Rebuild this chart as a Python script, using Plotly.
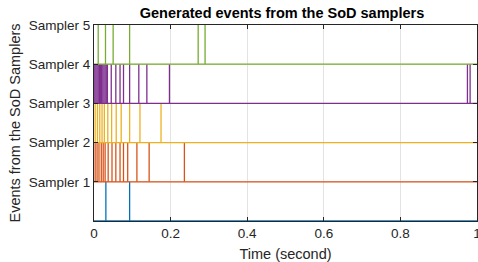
import plotly.graph_objects as go

# Event times (seconds) for each sampler trace
blue_events = [0.031, 0.093]
orange_events = [0.003, 0.008, 0.013, 0.019, 0.024, 0.029, 0.037, 0.047, 0.057,
                 0.068, 0.077, 0.088, 0.112, 0.144, 0.236]
yellow_events = [0.003, 0.009, 0.015, 0.021, 0.027, 0.036, 0.046, 0.058, 0.071,
                 0.093, 0.120, 0.175]
purple_events = [0.002, 0.005, 0.008, 0.011, 0.014, 0.017, 0.020, 0.023, 0.026,
                 0.029, 0.032, 0.035, 0.045, 0.057, 0.068, 0.077, 0.093, 0.117,
                 0.138, 0.197, 0.975, 0.982]
green_events = [0.011, 0.030, 0.050, 0.093, 0.272, 0.290]

series_events = [blue_events, orange_events, yellow_events, purple_events, green_events]
series_levels = [0, 1, 2, 3, 4]
series_colors = ["#0072BD", "#D95319", "#EDB120", "#7E2F8E", "#77AC30"]

tick_vals = [1, 2, 3, 4, 5]
tick_text = ["Sampler 1", "Sampler 2", "Sampler 3", "Sampler 4", "Sampler 5"]
x_ticks = [0, 0.2, 0.4, 0.6, 0.8, 1]
t_end = 1.0

fig = go.Figure()
for events, lvl, col in zip(series_events, series_levels, series_colors):
    xs = [0, t_end, None]
    ys = [lvl, lvl, None]
    for e in events:
        xs += [e, e, None]
        ys += [lvl, lvl + 1, None]
    fig.add_trace(go.Scatter(x=xs, y=ys, mode="lines",
                             line=dict(color=col, width=1.3),
                             showlegend=False, hoverinfo="skip"))

axcol = "#262626"
fig.update_layout(
    width=478, height=262,
    margin=dict(l=94, r=1, t=25, b=41),
    paper_bgcolor="white", plot_bgcolor="white",
    font=dict(family="Liberation Sans, Arial, sans-serif", size=13.5, color=axcol),
    title=dict(text="<b>Generated events from the SoD samplers</b>",
               x=0.59, xanchor="center", y=1 - 13 / 262, yanchor="middle",
               yref="container", font=dict(size=14.5, color="black")),
)
fig.update_xaxes(
    range=[0, 1], tickvals=x_ticks, ticktext=["0", "0.2", "0.4", "0.6", "0.8", "1"],
    showline=True, mirror="ticks", linecolor=axcol, linewidth=1,
    ticks="inside", ticklen=4, tickcolor=axcol, ticklabeloverflow="allow",
    showgrid=True, gridcolor="#e3e3e3", zeroline=False, automargin=False,
    title=dict(text="Time (second)", font=dict(size=14.5)),
    tickfont=dict(size=13.5),
)
fig.update_yaxes(
    range=[0, 5], tickvals=tick_vals, ticktext=tick_text,
    showline=True, mirror="ticks", linecolor=axcol, linewidth=1,
    ticks="inside", ticklen=4, tickcolor=axcol,
    showgrid=True, gridcolor="#e3e3e3", zeroline=False, automargin=True,
    title=dict(text="Events from the SoD Samplers", font=dict(size=14.5), standoff=4),
    tickfont=dict(size=13.5),
)

fig.write_html("out.html", config={"displayModeBar": False},
               post_script="document.body.style.margin='0';document.body.style.padding='0';")
